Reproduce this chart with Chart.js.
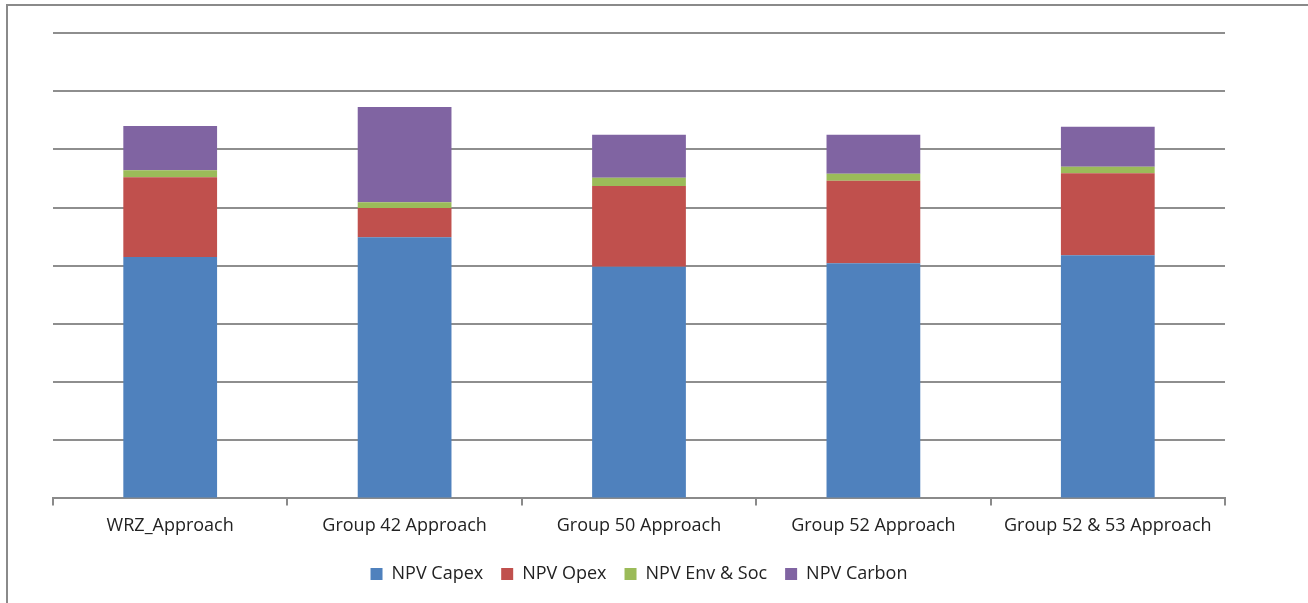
<!DOCTYPE html>
<html>
<head>
<meta charset="utf-8">
<script src="https://cdn.jsdelivr.net/npm/chart.js@4/dist/chart.umd.min.js"></script>
<style>
  html, body { margin: 0; padding: 0; background: #fff; }
  #wrap { width: 1308px; height: 603px; position: relative; }
</style>
</head>
<body>
<div id="wrap"><canvas id="npvChart"></canvas></div>
<script>
// หมวดหมู่และค่าของแต่ละชุดข้อมูล (อ่านจากภาพ)
const categories = ['WRZ_Approach', 'Group 42 Approach', 'Group 50 Approach', 'Group 52 Approach', 'Group 52 & 53 Approach'];
const npvCapex  = [4.15, 4.49, 3.98, 4.04, 4.18];
const npvOpex   = [1.37, 0.50, 1.39, 1.42, 1.41];
const npvEnvSoc = [0.12, 0.10, 0.14, 0.12, 0.11];
const npvCarbon = [0.76, 1.64, 0.74, 0.67, 0.69];

// กรอบด้านซ้ายและด้านบน
const framePlugin = {
    id: 'frame',
    afterDraw(chart) {
        const c = chart.ctx;
        c.save();
        c.strokeStyle = '#8a8a8a';
        c.lineWidth = 2;
        c.beginPath();
        c.moveTo(7, 603);
        c.lineTo(7, 5);
        c.lineTo(1308, 5);
        c.stroke();
        c.restore();
    }
};

const ctx = document.getElementById('npvChart').getContext('2d');
new Chart(ctx, {
    type: 'bar',
    data: {
        labels: categories,
        datasets: [
            { label: 'NPV Capex', data: npvCapex, backgroundColor: '#4F81BD' },
            { label: 'NPV Opex', data: npvOpex, backgroundColor: '#C0504D' },
            { label: 'NPV Env & Soc', data: npvEnvSoc, backgroundColor: '#9BBB59' },
            { label: 'NPV Carbon', data: npvCarbon, backgroundColor: '#8064A2' }
        ]
    },
    options: {
        responsive: true,
        maintainAspectRatio: false,
        animation: false,
        layout: { padding: { left: 53, right: 83, top: 33, bottom: 10 } },
        datasets: { bar: { categoryPercentage: 1, barPercentage: 0.4 } },
        plugins: {
            legend: {
                position: 'bottom',
                labels: {
                    font: { family: 'Open Sans', size: 18 },
                    color: '#222',
                    boxWidth: 12,
                    boxHeight: 12,
                    padding: 18
                }
            },
            tooltip: { enabled: false }
        },
        scales: {
            x: {
                stacked: true,
                grid: { drawOnChartArea: false, color: '#8a8a8a', lineWidth: 2, tickLength: 7, offset: true },
                border: { display: true, color: '#8a8a8a', width: 2 },
                ticks: { font: { family: 'Open Sans', size: 18 }, color: '#222', padding: 10 }
            },
            y: {
                stacked: true,
                min: 0,
                max: 8,
                ticks: { display: false, stepSize: 1 },
                grid: { color: '#8e8e8e', lineWidth: 2, drawTicks: false },
                border: { display: false }
            }
        }
    },
    plugins: [framePlugin]
});
</script>
</body>
</html>
